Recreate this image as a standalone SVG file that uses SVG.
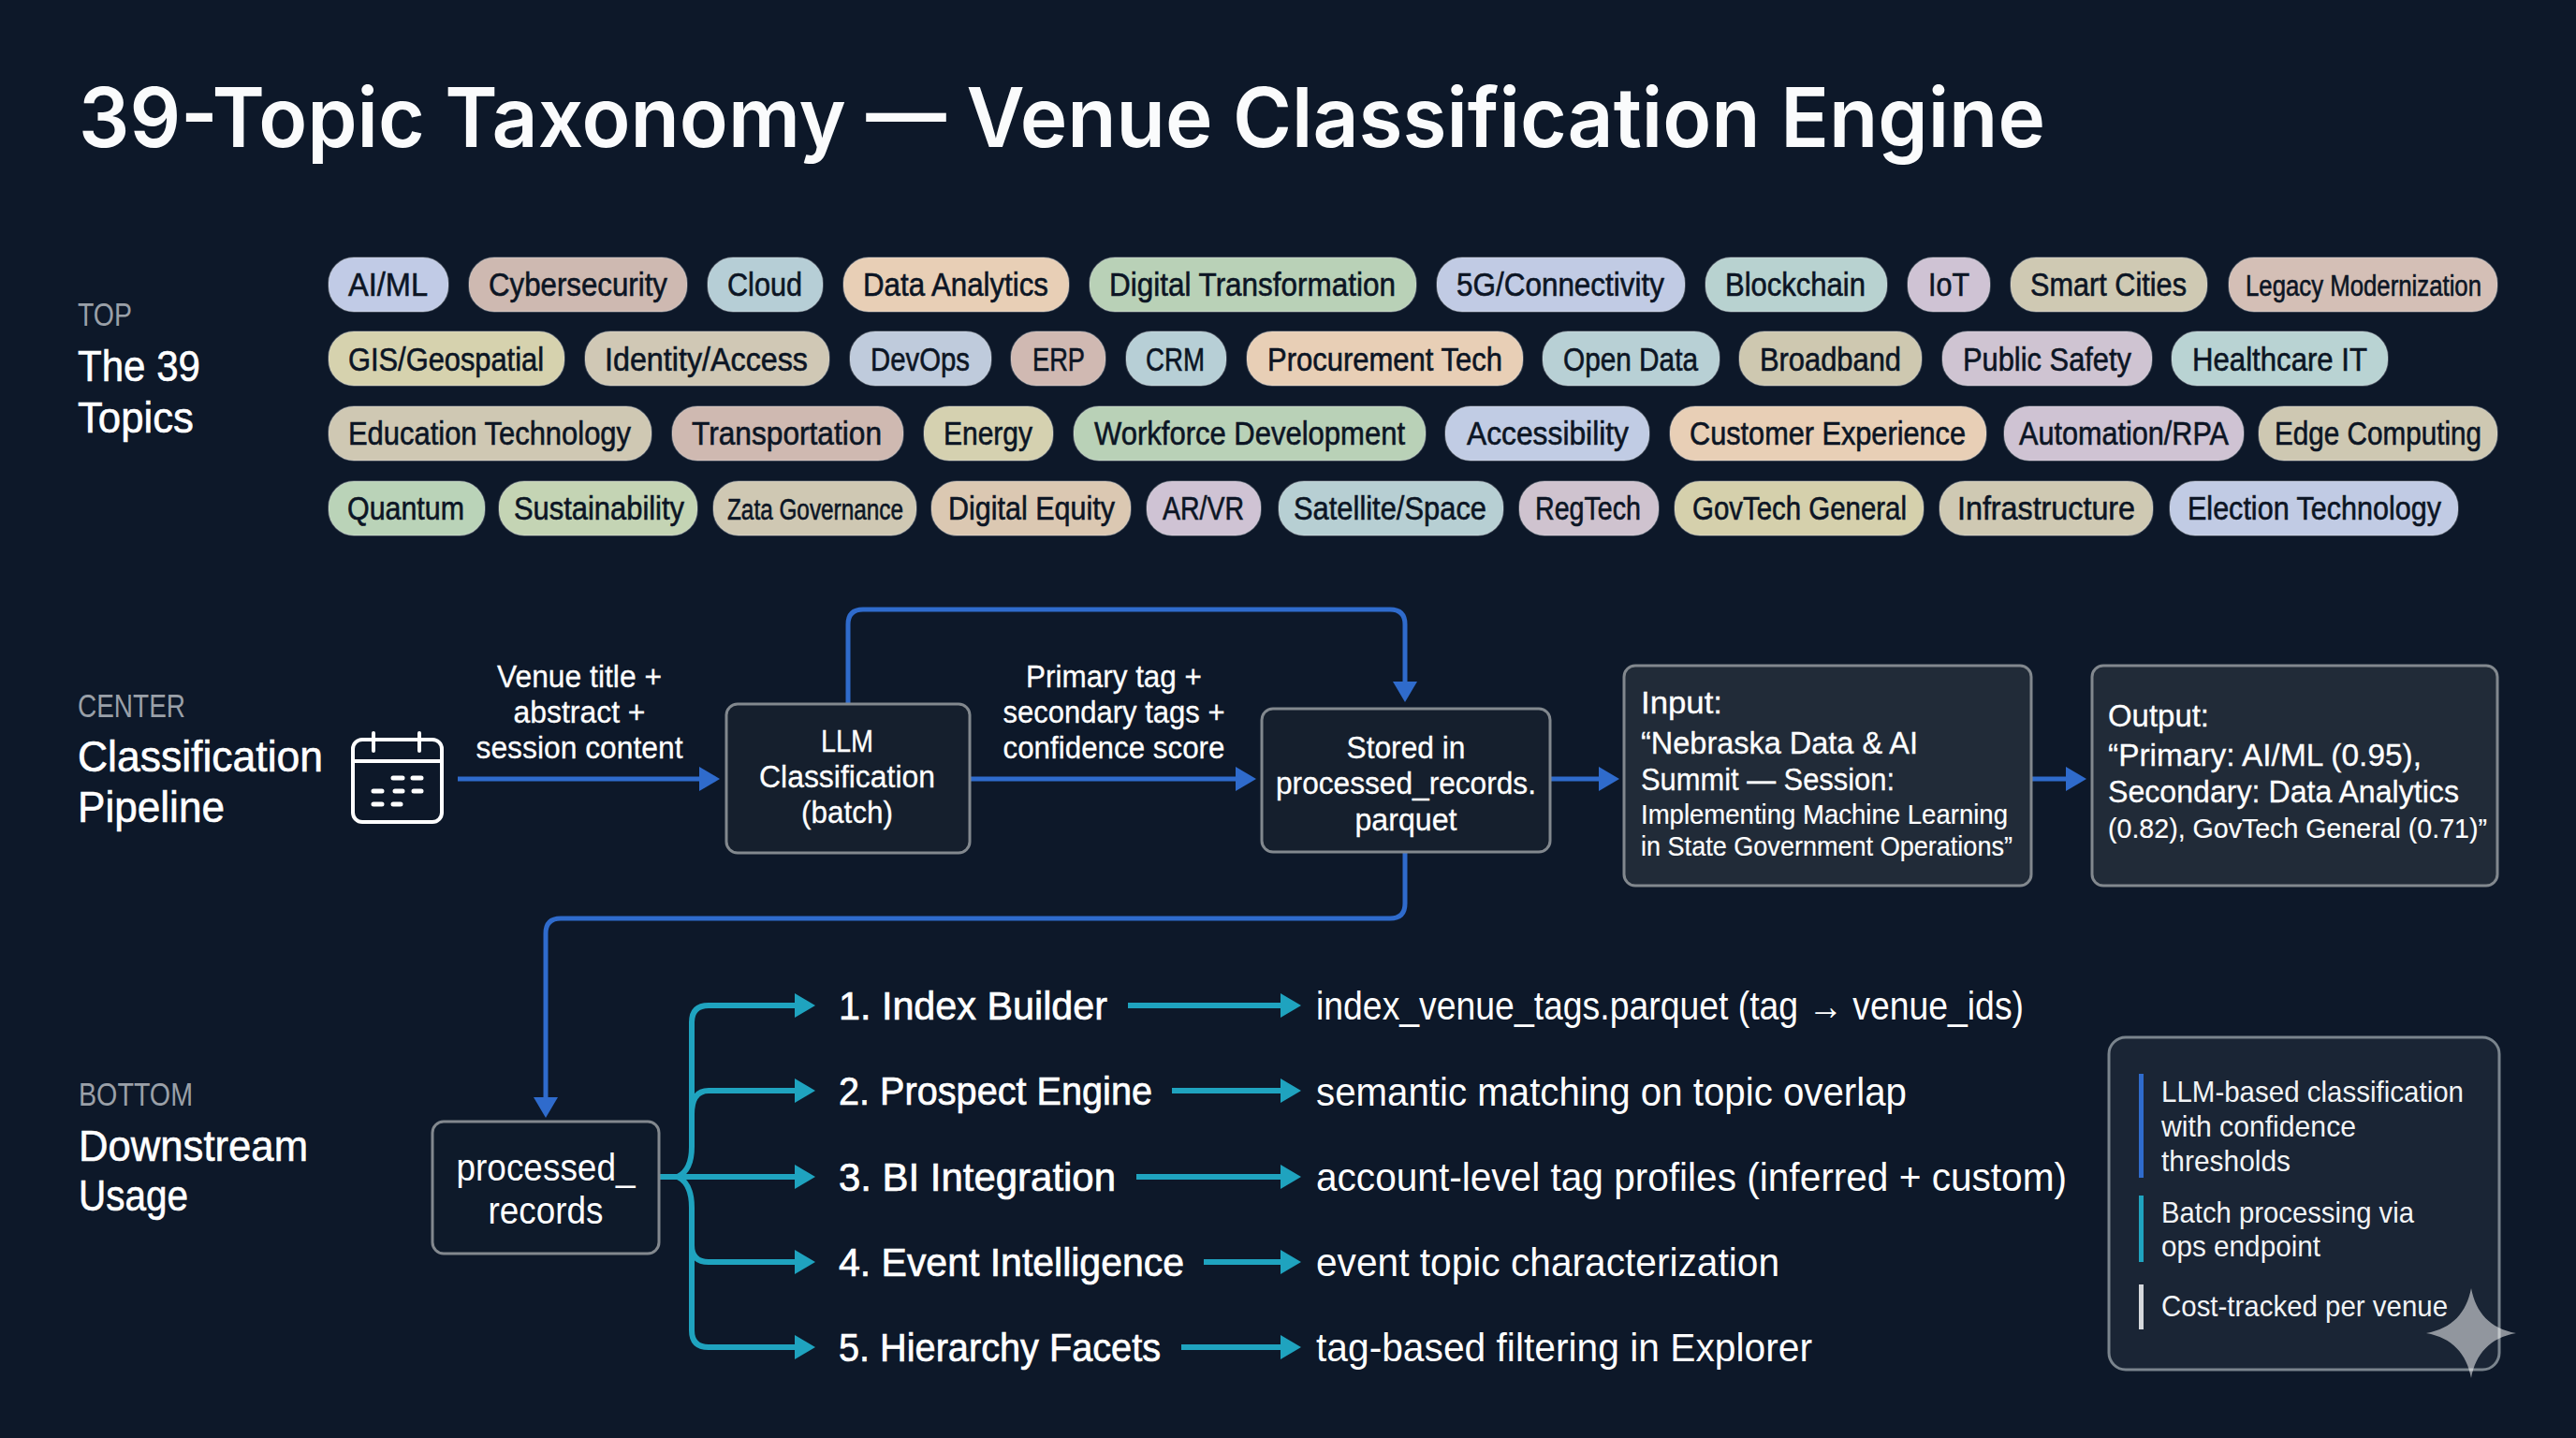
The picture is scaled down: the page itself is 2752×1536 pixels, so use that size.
<svg xmlns="http://www.w3.org/2000/svg" width="2752" height="1536" viewBox="0 0 2752 1536">
<style>
text{font-family:"Liberation Sans",Arial,sans-serif;fill:#fff}
.title{font-family:Inter,"Liberation Sans",sans-serif;font-size:88px;font-weight:600;fill:#fafbfc}
.sec{font-size:35px;fill:#9aa0a8}
.head{font-size:47px;stroke:#fff;stroke-width:.6}
.pill rect{stroke:#e6e8ea;stroke-opacity:.3;stroke-width:1.5}
.pill text{font-size:35px;fill:#0c1524;stroke:#0c1524;stroke-width:.6}
.pill text.sm{font-size:31px}
.box{fill:#151f2d;stroke:#82888e;stroke-width:3}
.panel{fill:#212b38;stroke:#82888e;stroke-width:3}
.t36{font-size:34px;stroke:#fff;stroke-width:.3}
.t32{font-size:30px;stroke:#fff;stroke-width:.2}
.item{font-size:43px;stroke:#fff;stroke-width:.7}
.res{font-size:42px}
.note{font-size:32px;fill:#f2f4f6}
.blue{fill:none;stroke:#2f6bcc;stroke-width:5;stroke-linejoin:round}
.teal{fill:none;stroke:#1fa3bf;stroke-width:6}
</style>
<defs>
<marker id="ab" markerUnits="userSpaceOnUse" viewBox="0 0 22 26" refX="1" refY="13" markerWidth="22" markerHeight="26" orient="auto"><path d="M0 0L22 13L0 26Z" fill="#2f6bcc"/></marker>
<marker id="at" markerUnits="userSpaceOnUse" viewBox="0 0 22 26" refX="1" refY="13" markerWidth="22" markerHeight="26" orient="auto"><path d="M0 0L22 13L0 26Z" fill="#1fa3bf"/></marker>
</defs>
<rect width="2752" height="1536" fill="#0d1829"/>
<text id="title" class="title" x="84" y="157" textLength="2101" lengthAdjust="spacingAndGlyphs">39-Topic Taxonomy — Venue Classification Engine</text>

<g id="label-top">
<text class="sec" x="83" y="348" textLength="58" lengthAdjust="spacingAndGlyphs">TOP</text>
<text class="head" x="83" y="407" textLength="131" lengthAdjust="spacingAndGlyphs">The 39</text>
<text class="head" x="83" y="462" textLength="124" lengthAdjust="spacingAndGlyphs">Topics</text>
</g>
<g id="label-center">
<text class="sec" x="83" y="766" textLength="115" lengthAdjust="spacingAndGlyphs">CENTER</text>
<text class="head" x="83" y="824" textLength="262" lengthAdjust="spacingAndGlyphs">Classification</text>
<text class="head" x="83" y="878" textLength="157" lengthAdjust="spacingAndGlyphs">Pipeline</text>
</g>
<g id="label-bottom">
<text class="sec" x="84" y="1181" textLength="122" lengthAdjust="spacingAndGlyphs">BOTTOM</text>
<text class="head" x="84" y="1240" textLength="245" lengthAdjust="spacingAndGlyphs">Downstream</text>
<text class="head" x="84" y="1293" textLength="117" lengthAdjust="spacingAndGlyphs">Usage</text>
</g>

<g id="pills">
<g class="pill" id="t1"><rect x="351" y="275" width="128" height="58" rx="27" fill="#c1cbe6"/><text x="372" y="316" textLength="85" lengthAdjust="spacingAndGlyphs">AI/ML</text></g>
<g class="pill" id="t2"><rect x="501" y="275" width="233" height="58" rx="27" fill="#ceb9b1"/><text x="522" y="316" textLength="191" lengthAdjust="spacingAndGlyphs">Cybersecurity</text></g>
<g class="pill" id="t3"><rect x="756" y="275" width="123" height="58" rx="27" fill="#b6ced6"/><text x="777" y="316" textLength="80" lengthAdjust="spacingAndGlyphs">Cloud</text></g>
<g class="pill" id="t4"><rect x="901" y="275" width="241" height="58" rx="27" fill="#e8cfb6"/><text x="922" y="316" textLength="198" lengthAdjust="spacingAndGlyphs">Data Analytics</text></g>
<g class="pill" id="t5"><rect x="1164" y="275" width="349" height="58" rx="27" fill="#b9d1b7"/><text x="1185" y="316" textLength="306" lengthAdjust="spacingAndGlyphs">Digital Transformation</text></g>
<g class="pill" id="t6"><rect x="1535" y="275" width="265" height="58" rx="27" fill="#c1cbe4"/><text x="1556" y="316" textLength="222" lengthAdjust="spacingAndGlyphs">5G/Connectivity</text></g>
<g class="pill" id="t7"><rect x="1822" y="275" width="194" height="58" rx="27" fill="#b8d2d0"/><text x="1843" y="316" textLength="150" lengthAdjust="spacingAndGlyphs">Blockchain</text></g>
<g class="pill" id="t8"><rect x="2038" y="275" width="88" height="58" rx="27" fill="#cfc3d4"/><text x="2060" y="316" textLength="44" lengthAdjust="spacingAndGlyphs">IoT</text></g>
<g class="pill" id="t9"><rect x="2148" y="275" width="210" height="58" rx="27" fill="#cfc9b3"/><text x="2169" y="316" textLength="167" lengthAdjust="spacingAndGlyphs">Smart Cities</text></g>
<g class="pill" id="t10"><rect x="2381" y="275" width="287" height="58" rx="27" fill="#d4bfb6"/><text class="sm" x="2399" y="316" textLength="252" lengthAdjust="spacingAndGlyphs">Legacy Modernization</text></g>

<g class="pill" id="t11"><rect x="351" y="354" width="252" height="58" rx="27" fill="#d6d2ae"/><text x="372" y="396" textLength="209" lengthAdjust="spacingAndGlyphs">GIS/Geospatial</text></g>
<g class="pill" id="t12"><rect x="625" y="354" width="261" height="58" rx="27" fill="#d0c8b5"/><text x="646" y="396" textLength="217" lengthAdjust="spacingAndGlyphs">Identity/Access</text></g>
<g class="pill" id="t13"><rect x="908" y="354" width="151" height="58" rx="27" fill="#bfcbdc"/><text x="930" y="396" textLength="106" lengthAdjust="spacingAndGlyphs">DevOps</text></g>
<g class="pill" id="t14"><rect x="1080" y="354" width="101" height="58" rx="27" fill="#d0b9b2"/><text x="1103" y="396" textLength="56" lengthAdjust="spacingAndGlyphs">ERP</text></g>
<g class="pill" id="t15"><rect x="1203" y="354" width="107" height="58" rx="27" fill="#b7cfd6"/><text x="1224" y="396" textLength="63" lengthAdjust="spacingAndGlyphs">CRM</text></g>
<g class="pill" id="t16"><rect x="1332" y="354" width="295" height="58" rx="27" fill="#e8cfb6"/><text x="1354" y="396" textLength="251" lengthAdjust="spacingAndGlyphs">Procurement Tech</text></g>
<g class="pill" id="t17"><rect x="1648" y="354" width="189" height="58" rx="27" fill="#b8d0d5"/><text x="1670" y="396" textLength="144" lengthAdjust="spacingAndGlyphs">Open Data</text></g>
<g class="pill" id="t18"><rect x="1858" y="354" width="195" height="58" rx="27" fill="#cec8b0"/><text x="1880" y="396" textLength="151" lengthAdjust="spacingAndGlyphs">Broadband</text></g>
<g class="pill" id="t19"><rect x="2075" y="354" width="224" height="58" rx="27" fill="#cfc4d2"/><text x="2097" y="396" textLength="180" lengthAdjust="spacingAndGlyphs">Public Safety</text></g>
<g class="pill" id="t20"><rect x="2320" y="354" width="231" height="58" rx="27" fill="#b9d3d3"/><text x="2342" y="396" textLength="187" lengthAdjust="spacingAndGlyphs">Healthcare IT</text></g>

<g class="pill" id="t21"><rect x="351" y="434" width="345" height="58" rx="27" fill="#cfc8b3"/><text x="372" y="475" textLength="302" lengthAdjust="spacingAndGlyphs">Education Technology</text></g>
<g class="pill" id="t22"><rect x="718" y="434" width="247" height="58" rx="27" fill="#cfb9b1"/><text x="739" y="475" textLength="203" lengthAdjust="spacingAndGlyphs">Transportation</text></g>
<g class="pill" id="t23"><rect x="987" y="434" width="138" height="58" rx="27" fill="#d5d1b0"/><text x="1008" y="475" textLength="95" lengthAdjust="spacingAndGlyphs">Energy</text></g>
<g class="pill" id="t24"><rect x="1147" y="434" width="376" height="58" rx="27" fill="#b9d1b7"/><text x="1169" y="475" textLength="332" lengthAdjust="spacingAndGlyphs">Workforce Development</text></g>
<g class="pill" id="t25"><rect x="1544" y="434" width="218" height="58" rx="27" fill="#c1cce4"/><text x="1567" y="475" textLength="173" lengthAdjust="spacingAndGlyphs">Accessibility</text></g>
<g class="pill" id="t26"><rect x="1784" y="434" width="338" height="58" rx="27" fill="#e8cfb6"/><text x="1805" y="475" textLength="295" lengthAdjust="spacingAndGlyphs">Customer Experience</text></g>
<g class="pill" id="t27"><rect x="2141" y="434" width="256" height="58" rx="27" fill="#cfc3d3"/><text x="2157" y="475" textLength="224" lengthAdjust="spacingAndGlyphs">Automation/RPA</text></g>
<g class="pill" id="t28"><rect x="2413" y="434" width="255" height="58" rx="27" fill="#cec8b2"/><text x="2430" y="475" textLength="221" lengthAdjust="spacingAndGlyphs">Edge Computing</text></g>

<g class="pill" id="t29"><rect x="351" y="514" width="167" height="58" rx="27" fill="#bad3b8"/><text x="371" y="555" textLength="125" lengthAdjust="spacingAndGlyphs">Quantum</text></g>
<g class="pill" id="t30"><rect x="533" y="514" width="212" height="58" rx="27" fill="#c4d4b4"/><text x="549" y="555" textLength="182" lengthAdjust="spacingAndGlyphs">Sustainability</text></g>
<g class="pill" id="t31"><rect x="762" y="514" width="217" height="58" rx="27" fill="#cfc8b3"/><text class="sm" x="777" y="555" textLength="188" lengthAdjust="spacingAndGlyphs">Zata Governance</text></g>
<g class="pill" id="t32"><rect x="995" y="514" width="213" height="58" rx="27" fill="#dbc8b2"/><text x="1013" y="555" textLength="178" lengthAdjust="spacingAndGlyphs">Digital Equity</text></g>
<g class="pill" id="t33"><rect x="1225" y="514" width="122" height="58" rx="27" fill="#cfc3d4"/><text x="1242" y="555" textLength="87" lengthAdjust="spacingAndGlyphs">AR/VR</text></g>
<g class="pill" id="t34"><rect x="1366" y="514" width="240" height="58" rx="27" fill="#b7cfd3"/><text x="1382" y="555" textLength="206" lengthAdjust="spacingAndGlyphs">Satellite/Space</text></g>
<g class="pill" id="t35"><rect x="1623" y="514" width="149" height="58" rx="27" fill="#cfc3cf"/><text x="1640" y="555" textLength="113" lengthAdjust="spacingAndGlyphs">RegTech</text></g>
<g class="pill" id="t36"><rect x="1789" y="514" width="266" height="58" rx="27" fill="#d5d0ac"/><text x="1808" y="555" textLength="229" lengthAdjust="spacingAndGlyphs">GovTech General</text></g>
<g class="pill" id="t37"><rect x="2072" y="514" width="228" height="58" rx="27" fill="#cfc9b3"/><text x="2091" y="555" textLength="190" lengthAdjust="spacingAndGlyphs">Infrastructure</text></g>
<g class="pill" id="t38"><rect x="2318" y="514" width="308" height="58" rx="27" fill="#c1cbe4"/><text x="2337" y="555" textLength="271" lengthAdjust="spacingAndGlyphs">Election Technology</text></g>
</g>

<g id="connectors">
<path class="blue" d="M489 832H748" marker-end="url(#ab)"/>
<path class="blue" d="M1036 832H1321" marker-end="url(#ab)"/>
<path class="blue" d="M1656 832H1709" marker-end="url(#ab)"/>
<path class="blue" d="M2170 832H2208" marker-end="url(#ab)"/>
<path class="blue" d="M906 752V667Q906 651 922 651H1485Q1501 651 1501 667V729" marker-end="url(#ab)"/>
<path class="blue" d="M1501 910V965Q1501 981 1485 981H599Q583 981 583 997V1173" marker-end="url(#ab)"/>
<path class="teal" d="M704 1257H850" marker-end="url(#at)"/>
<path class="teal" d="M724 1257Q739 1250 739 1225V1092Q739 1074 757 1074H850" marker-end="url(#at)"/>
<path class="teal" d="M739 1190Q739 1165 757 1165H850" marker-end="url(#at)"/>
<path class="teal" d="M724 1257Q739 1264 739 1290V1330Q739 1348 757 1348H850" marker-end="url(#at)"/>
<path class="teal" d="M739 1300V1421Q739 1439 757 1439H850" marker-end="url(#at)"/>
<path class="teal" d="M1205 1074H1369" marker-end="url(#at)"/>
<path class="teal" d="M1252 1165H1369" marker-end="url(#at)"/>
<path class="teal" d="M1214 1257H1369" marker-end="url(#at)"/>
<path class="teal" d="M1286 1348H1369" marker-end="url(#at)"/>
<path class="teal" d="M1262 1439H1369" marker-end="url(#at)"/>
</g>

<g id="icon-calendar" fill="none" stroke="#fff" stroke-width="4" stroke-linecap="round">
<rect x="377" y="790" width="95" height="88" rx="10"/>
<path d="M377 813H472M399 783V802M448 783V802"/>
<path d="M420 831H430M441 831H450M399 845H408M422 845H430M442 845H450M399 859H408M420 859H428" stroke-width="5"/>
</g>

<g id="lbl-in">
<text class="t36" x="619" y="734" text-anchor="middle" textLength="176" lengthAdjust="spacingAndGlyphs">Venue title +</text>
<text class="t36" x="619" y="772" text-anchor="middle" textLength="141" lengthAdjust="spacingAndGlyphs">abstract +</text>
<text class="t36" x="619" y="810" text-anchor="middle" textLength="221" lengthAdjust="spacingAndGlyphs">session content</text>
</g>
<g id="lbl-out">
<text class="t36" x="1190" y="734" text-anchor="middle" textLength="188" lengthAdjust="spacingAndGlyphs">Primary tag +</text>
<text class="t36" x="1190" y="772" text-anchor="middle" textLength="237" lengthAdjust="spacingAndGlyphs">secondary tags +</text>
<text class="t36" x="1190" y="810" text-anchor="middle" textLength="237" lengthAdjust="spacingAndGlyphs">confidence score</text>
</g>

<g id="node-llm">
<rect class="box" x="776" y="752" width="260" height="159" rx="12"/>
<text class="t36" x="905" y="803" text-anchor="middle" textLength="56" lengthAdjust="spacingAndGlyphs">LLM</text>
<text class="t36" x="905" y="841" text-anchor="middle" textLength="188" lengthAdjust="spacingAndGlyphs">Classification</text>
<text class="t36" x="905" y="879" text-anchor="middle" textLength="98" lengthAdjust="spacingAndGlyphs">(batch)</text>
</g>
<g id="node-stored">
<rect class="box" x="1348" y="757" width="308" height="153" rx="12"/>
<text class="t36" x="1502" y="810" text-anchor="middle" textLength="127" lengthAdjust="spacingAndGlyphs">Stored in</text>
<text class="t36" x="1502" y="848" text-anchor="middle" textLength="278" lengthAdjust="spacingAndGlyphs">processed_records.</text>
<text class="t36" x="1502" y="887" text-anchor="middle" textLength="109" lengthAdjust="spacingAndGlyphs">parquet</text>
</g>
<g id="node-input">
<rect class="panel" x="1735" y="711" width="435" height="235" rx="12"/>
<text class="t36" x="1753" y="762" textLength="87" lengthAdjust="spacingAndGlyphs">Input:</text>
<text class="t36" x="1753" y="805" textLength="296" lengthAdjust="spacingAndGlyphs">“Nebraska Data &amp; AI</text>
<text class="t36" x="1753" y="844" textLength="271" lengthAdjust="spacingAndGlyphs">Summit — Session:</text>
<text class="t32" x="1753" y="880" textLength="392" lengthAdjust="spacingAndGlyphs">Implementing Machine Learning</text>
<text class="t32" x="1753" y="914" textLength="397" lengthAdjust="spacingAndGlyphs">in State Government Operations”</text>
</g>
<g id="node-output">
<rect class="panel" x="2235" y="711" width="433" height="235" rx="12"/>
<text class="t36" x="2252" y="776" textLength="108" lengthAdjust="spacingAndGlyphs">Output:</text>
<text class="t36" x="2252" y="818" textLength="335" lengthAdjust="spacingAndGlyphs">“Primary: AI/ML (0.95),</text>
<text class="t36" x="2252" y="857" textLength="375" lengthAdjust="spacingAndGlyphs">Secondary: Data Analytics</text>
<text class="t32" x="2252" y="895" textLength="405" lengthAdjust="spacingAndGlyphs">(0.82), GovTech General (0.71)”</text>
</g>
<g id="node-records">
<rect x="462" y="1198" width="242" height="141" rx="12" fill="#0e1a2a" stroke="#82888e" stroke-width="3"/>
<text x="583" y="1261" font-size="41" text-anchor="middle" textLength="191" lengthAdjust="spacingAndGlyphs">processed_</text>
<text x="583" y="1307" font-size="41" text-anchor="middle" textLength="123" lengthAdjust="spacingAndGlyphs">records</text>
</g>

<g id="consumers">
<text class="item" x="896" y="1089" textLength="287" lengthAdjust="spacingAndGlyphs">1. Index Builder</text>
<text class="item" x="896" y="1180" textLength="335" lengthAdjust="spacingAndGlyphs">2. Prospect Engine</text>
<text class="item" x="896" y="1272" textLength="296" lengthAdjust="spacingAndGlyphs">3. BI Integration</text>
<text class="item" x="896" y="1363" textLength="369" lengthAdjust="spacingAndGlyphs">4. Event Intelligence</text>
<text class="item" x="896" y="1454" textLength="344" lengthAdjust="spacingAndGlyphs">5. Hierarchy Facets</text>
<text class="res" x="1406" y="1089" textLength="756" lengthAdjust="spacingAndGlyphs">index_venue_tags.parquet (tag → venue_ids)</text>
<text class="res" x="1406" y="1181" textLength="631" lengthAdjust="spacingAndGlyphs">semantic matching on topic overlap</text>
<text class="res" x="1406" y="1272" textLength="802" lengthAdjust="spacingAndGlyphs">account-level tag profiles (inferred + custom)</text>
<text class="res" x="1406" y="1363" textLength="495" lengthAdjust="spacingAndGlyphs">event topic characterization</text>
<text class="res" x="1406" y="1454" textLength="530" lengthAdjust="spacingAndGlyphs">tag-based filtering in Explorer</text>
</g>

<g id="notes">
<rect x="2253" y="1108" width="417" height="355" rx="18" fill="#1a2535" stroke="#7a848d" stroke-width="3"/>
<rect x="2285" y="1147" width="5" height="111" fill="#2f6bcc"/>
<rect x="2285" y="1277" width="5" height="71" fill="#1fa3bf"/>
<rect x="2285" y="1372" width="5" height="48" fill="#d5d8dc"/>
<text class="note" x="2309" y="1177" textLength="323" lengthAdjust="spacingAndGlyphs">LLM-based classification</text>
<text class="note" x="2309" y="1214" textLength="208" lengthAdjust="spacingAndGlyphs">with confidence</text>
<text class="note" x="2309" y="1251" textLength="138" lengthAdjust="spacingAndGlyphs">thresholds</text>
<text class="note" x="2309" y="1306" textLength="270" lengthAdjust="spacingAndGlyphs">Batch processing via</text>
<text class="note" x="2309" y="1342" textLength="170" lengthAdjust="spacingAndGlyphs">ops endpoint</text>
<text class="note" x="2309" y="1406" textLength="306" lengthAdjust="spacingAndGlyphs">Cost-tracked per venue</text>
</g>
<path id="sparkle" d="M2640 1376C2645 1402 2660 1419 2688 1424C2660 1429 2645 1446 2640 1472C2635 1446 2620 1429 2592 1424C2620 1419 2635 1402 2640 1376Z" fill="#fff" fill-opacity=".52"/>
</svg>
